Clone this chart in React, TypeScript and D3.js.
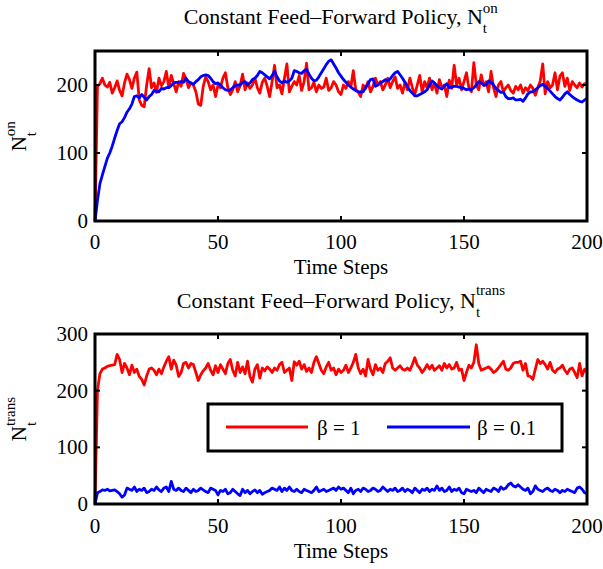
import React, { useEffect, useRef } from 'react';
import * as d3 from 'd3';

// N_t^on, beta = 1 (red) and beta = 0.1 (blue), t = 0..200
const onRed = [
  0, 198, 202, 210, 200, 197, 204, 188, 196, 206,
  192, 184, 203, 216, 208, 195, 210, 219, 178, 170,
  168, 200, 224, 196, 203, 189, 210, 199, 205, 220,
  196, 214, 202, 190, 205, 198, 217, 209, 196, 203,
  200, 190, 172, 170, 198, 212, 205, 193, 200, 183,
  200, 196, 210, 218, 196, 186, 193, 205, 190, 199,
  216, 193, 203, 195, 200, 210, 196, 188, 204, 210,
  198, 183, 205, 229, 196, 200, 187, 210, 231, 190,
  198, 205, 200, 214, 192, 205, 232, 193, 196, 204,
  190, 200, 195, 197, 210, 192, 196, 205, 200, 190,
  186, 200, 195, 205, 197, 221, 193, 190, 183, 200,
  195, 205, 190, 198, 210, 200, 205, 193, 200, 210,
  196, 205, 212, 195, 200, 188, 204, 193, 210, 196,
  186, 200, 214, 190, 205, 196, 210, 193, 203, 188,
  208, 196, 200, 183, 207, 195, 229, 200, 210, 193,
  205, 218, 195, 190, 233, 200, 193, 215, 199, 205,
  190, 220, 196, 183, 200, 205, 190, 196, 200, 192,
  188, 198, 193, 200, 188, 196, 192, 200, 195, 185,
  196, 206, 231, 187, 205, 196, 200, 218, 193, 213,
  218, 198, 210, 192, 205, 200, 196, 203, 197, 202,
  200,
];
const onBlue = [
  0, 30, 55, 68, 80, 92, 100, 110, 122, 133,
  143, 146, 152, 160, 165, 172, 183, 184, 181, 186,
  182, 178, 183, 186, 192, 191, 190, 195, 194, 196,
  196, 199, 203, 204, 204, 205, 204, 210, 205, 203,
  201, 205, 208, 212, 214, 215, 214, 210, 205, 202,
  203, 200, 196, 193, 192, 193, 196, 199, 200, 200,
  204, 205, 200, 203, 208, 210, 214, 220, 218, 215,
  212, 209, 214, 220, 212, 206, 203, 206, 204, 206,
  210, 221, 220, 218, 217, 221, 223, 216, 210, 206,
  207, 212, 218, 224, 230, 235, 237, 231, 225, 218,
  213, 208, 204, 200, 197, 194, 192, 190, 190, 190,
  196, 202, 208, 209, 198, 200, 203, 205, 208, 206,
  209, 214, 218, 220, 215, 210, 204, 198, 192, 188,
  184, 184, 186, 188, 190, 193, 200, 206, 203, 199,
  196, 194, 198, 202, 196, 197, 198, 198, 197, 196,
  195, 193, 194, 193, 196, 200, 205, 203, 200, 200,
  206, 204, 200, 195, 192, 189, 190, 183, 180, 180,
  181, 178, 178, 179, 176, 181, 187, 190, 190, 193,
  196, 199, 201, 198, 195, 191, 187, 183, 180, 178,
  182, 187, 190, 186, 183, 180, 178, 176, 175, 178,
  180,
];
// N_t^trans
const transRed = [
  0, 200, 230, 238, 240, 243, 244, 245, 246, 264,
  255, 232, 248, 240, 228, 245, 232, 238, 225, 220,
  210, 226, 238, 240, 236, 228, 238, 230, 242, 252,
  260, 238, 254, 245, 225, 232, 248, 250, 240, 248,
  246, 232, 218, 228, 235, 240, 248, 236, 228, 244,
  232, 246, 238, 230, 248, 255, 236, 226, 250, 232,
  242, 230, 252, 225, 215, 238, 246, 222, 240, 235,
  242, 238, 232, 240, 236, 246, 250, 232, 236, 240,
  218, 251, 245, 252, 238, 246, 234, 240, 232, 250,
  260, 248, 236, 230, 242, 250, 236, 240, 228, 238,
  232, 236, 245, 232, 240, 250, 264, 240, 230, 238,
  226, 255, 238, 228, 246, 236, 240, 232, 248, 252,
  258, 240, 236, 240, 244, 238, 236, 240, 236, 246,
  258, 245, 240, 232, 238, 246, 238, 245, 236, 240,
  244, 236, 248, 240, 246, 238, 240, 250, 236, 238,
  218, 232, 245, 240, 250, 281, 248, 236, 238, 240,
  242, 238, 232, 235, 240, 246, 252, 238, 236, 240,
  248, 250, 250, 252, 236, 248, 226, 225, 220, 238,
  255, 248, 252, 246, 238, 250, 236, 232, 238, 240,
  245, 236, 230, 238, 240, 232, 223, 248, 226, 238,
  233,
];
const transBlue = [
  0, 20, 22, 25, 24, 26, 23, 24, 25, 22,
  18, 12, 16, 28, 26, 24, 30, 22, 26, 24,
  28, 20, 22, 26, 24, 30, 25, 22, 28, 30,
  22, 40, 26, 24, 28, 24, 22, 28, 24, 20,
  26, 22, 24, 28, 25, 22, 20, 28, 26, 24,
  16, 24, 22, 26, 18, 20, 26, 22, 18, 15,
  26, 20, 24, 18, 22, 25, 20, 24, 17, 20,
  22, 24, 28, 26, 24, 30, 22, 28, 24, 30,
  24, 22, 26, 22, 20, 26, 24, 22, 20, 24,
  30, 22, 24, 26, 22, 24, 26, 28, 24, 30,
  26, 28, 24, 20, 28, 18, 24, 26, 22, 28,
  26, 22, 24, 28, 26, 22, 24, 30, 26, 22,
  26, 24, 28, 22, 24, 28, 22, 26, 24, 20,
  28, 24, 20, 26, 24, 28, 22, 26, 24, 32,
  24, 28, 22, 24, 30, 22, 26, 24, 28, 20,
  18, 26, 24, 22, 24, 20, 28, 24, 20, 26,
  24, 22, 28, 26, 22, 30, 26, 28, 34, 37,
  32, 30, 34, 30, 26, 24, 28, 18, 22, 32,
  26, 24, 22, 26, 28, 24, 22, 26, 24, 20,
  24, 22, 26, 24, 22, 20, 28, 30, 26, 20,
  18,
];

const xTicks = [0, 50, 100, 150, 200];
const onTicks = [0, 100, 200];
const transTicks = [0, 100, 200, 300];
const legendLabels = ['\u03b2 = 1', '\u03b2 = 0.1'];

const FONT = '"Liberation Serif", "Times New Roman", serif';

// N with stacked sub/superscript, centred on (cx, cy)
function richLabel(parent: any, cx: number, cy: number, rot: number, main: string, sub: string, sup: string, subDy: number, supDy: number, size = 21) {
  const g = parent.append('g').attr('transform', `translate(${cx},${cy}) rotate(${rot})`);
  const inner = g.append('g');
  inner.append('text').attr('text-anchor', 'end').attr('font-size', size).text(main);
  inner.append('text').attr('y', subDy).attr('font-size', 15).text(sub);
  inner.append('text').attr('y', supDy).attr('font-size', 15).text(sup);
  const bb = inner.node().getBBox();
  inner.attr('transform', `translate(${-(bb.x + bb.width / 2)},0)`);
}

const App = () => {
  const ref = useRef<SVGSVGElement>(null);

  useEffect(() => {
    const svg = d3.select(ref.current);
    svg.selectAll('*').remove();
    svg.attr('font-family', FONT);

    const panels = [
      { top: 51, bottom: 221, yMax: 250, yTicks: onTicks, red: onRed, blue: onBlue, sup: 'on', titleY: 24, tickY: 249, labelY: 274, supDy: -11 },
      { top: 334, bottom: 504, yMax: 300, yTicks: transTicks, red: transRed, blue: transBlue, sup: 'trans', titleY: 308, tickY: 533, labelY: 558, supDy: -13 },
    ];
    const left = 95, right = 587;

    panels.forEach((p, pi) => {
      const x = d3.scaleLinear().domain([0, 200]).range([left, right]);
      const y = d3.scaleLinear().domain([0, p.yMax]).range([p.bottom, p.top]);
      const g = svg.append('g');

      const line = d3.line<number>().x((_, i) => x(i)).y((d) => y(d));
      g.append('path').datum(p.red).attr('d', line).attr('fill', 'none')
        .attr('stroke', '#ff0000').attr('stroke-width', 2.8).attr('stroke-linejoin', 'round');
      g.append('path').datum(p.blue).attr('d', line).attr('fill', 'none')
        .attr('stroke', '#0000ff').attr('stroke-width', 2.8).attr('stroke-linejoin', 'round');

      // inward ticks on all sides
      const tl = 5;
      xTicks.forEach((t) => {
        g.append('line').attr('x1', x(t)).attr('x2', x(t)).attr('y1', p.bottom).attr('y2', p.bottom - tl).attr('stroke', '#000').attr('stroke-width', 2);
        g.append('line').attr('x1', x(t)).attr('x2', x(t)).attr('y1', p.top).attr('y2', p.top + tl).attr('stroke', '#000').attr('stroke-width', 2);
        g.append('text').attr('x', x(t)).attr('y', p.tickY).attr('text-anchor', 'middle').attr('font-size', 21).text(t);
      });
      p.yTicks.forEach((t) => {
        g.append('line').attr('x1', left).attr('x2', left + tl).attr('y1', y(t)).attr('y2', y(t)).attr('stroke', '#000').attr('stroke-width', 2);
        g.append('line').attr('x1', right).attr('x2', right - tl).attr('y1', y(t)).attr('y2', y(t)).attr('stroke', '#000').attr('stroke-width', 2);
        g.append('text').attr('x', 88).attr('y', y(t) + 7).attr('text-anchor', 'end').attr('font-size', 21).text(t);
      });

      g.append('rect').attr('x', left).attr('y', p.top).attr('width', right - left).attr('height', p.bottom - p.top)
        .attr('fill', 'none').attr('stroke', '#000').attr('stroke-width', 3);

      g.append('text').attr('x', (left + right) / 2).attr('y', p.labelY).attr('text-anchor', 'middle').attr('font-size', 21).text('Time Steps');
      richLabel(g, (left + right) / 2, p.titleY, 0, 'Constant Feed\u2013Forward Policy, N', 't', p.sup, 9, p.supDy, 22);
      richLabel(g, 26, (p.top + p.bottom) / 2, -90, 'N', 't', p.sup, 10, -11);

      if (pi === 1) {
        const lg = g.append('g');
        lg.append('rect').attr('x', 208).attr('y', 404).attr('width', 354).attr('height', 47)
          .attr('fill', '#fff').attr('stroke', '#000').attr('stroke-width', 3);
        const items = [
          { c: '#ff0000', x1: 226, x2: 308, tx: 317 },
          { c: '#0000ff', x1: 387, x2: 470, tx: 477 },
        ];
        items.forEach((it, i) => {
          lg.append('line').attr('x1', it.x1).attr('x2', it.x2).attr('y1', 427).attr('y2', 427)
            .attr('stroke', it.c).attr('stroke-width', 2.8);
          lg.append('text').attr('x', it.tx).attr('y', 435).attr('font-size', 21).text(legendLabels[i]);
        });
      }
    });
  }, []);

  return (
    <div style={{ position: 'absolute', left: 0, top: 0 }}>
      <svg ref={ref} width={603} height={569} style={{ display: 'block', background: '#fff' }} />
    </div>
  );
};

export default App;
